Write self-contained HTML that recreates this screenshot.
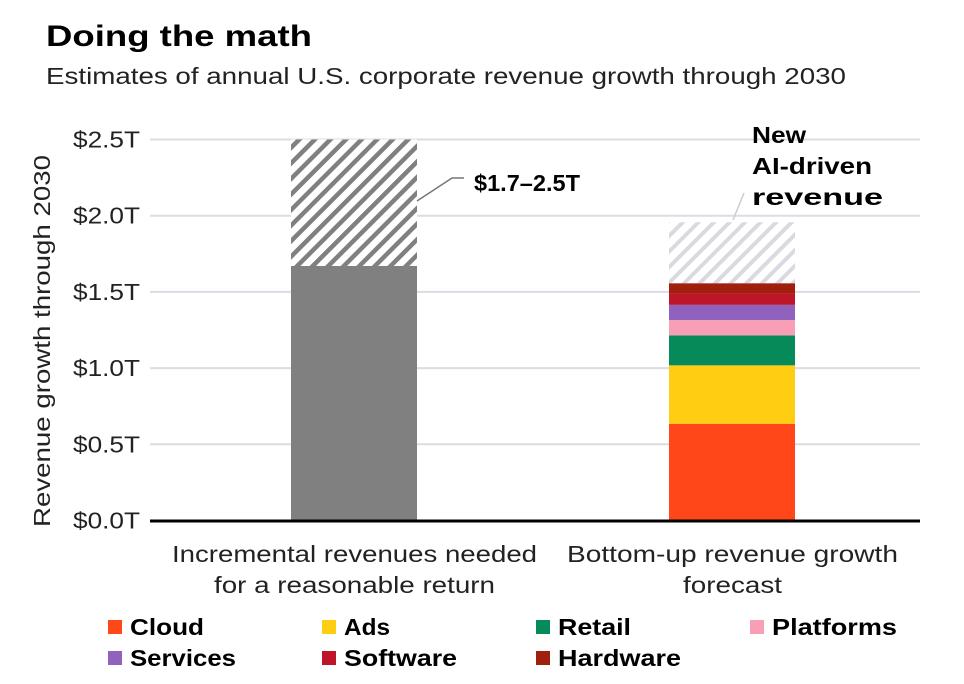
<!DOCTYPE html>
<html><head><meta charset="utf-8"><style>
body{margin:0;background:#fff;font-family:"Liberation Sans",sans-serif}
svg text{font-family:"Liberation Sans",sans-serif}
</style></head><body>
<svg id="c" width="964" height="679" xmlns="http://www.w3.org/2000/svg">
<defs>
<pattern id="h1" patternUnits="userSpaceOnUse" width="11" height="11" patternTransform="rotate(45)"><rect width="11" height="11" fill="#fff"/><rect width="4.5" height="11" fill="#808080"/></pattern>
<pattern id="h2" patternUnits="userSpaceOnUse" width="11" height="11" patternTransform="rotate(45)"><rect width="11" height="11" fill="#fff"/><rect width="4" height="11" fill="#d9d9e2"/></pattern>
</defs>
<text x="46" y="46" font-size="30" font-weight="bold" fill="#000" textLength="266" lengthAdjust="spacingAndGlyphs">Doing the math</text>
<text x="46" y="84" font-size="23" fill="#222" textLength="800" lengthAdjust="spacingAndGlyphs">Estimates of annual U.S. corporate revenue growth through 2030</text>
<text transform="translate(50,341) rotate(-90)" text-anchor="middle" font-size="23" fill="#222" textLength="372" lengthAdjust="spacingAndGlyphs">Revenue growth through 2030</text>
<g id="grid"></g><g id="bars"></g>
<line x1="150" y1="521" x2="920" y2="521" stroke="#000" stroke-width="3"/>
<polyline points="417,201 452,178 464,178" fill="none" stroke="#777" stroke-width="1.5"/>
<text x="474" y="191" font-size="23" font-weight="bold" textLength="106" lengthAdjust="spacingAndGlyphs">$1.7–2.5T</text>
<line x1="733" y1="220" x2="744" y2="193" stroke="#ccc" stroke-width="1.5"/>
<g font-size="23" font-weight="bold">
<text x="752" y="143" textLength="54" lengthAdjust="spacingAndGlyphs">New</text><text x="752" y="174" textLength="120" lengthAdjust="spacingAndGlyphs">AI-driven</text><text x="752" y="205" textLength="131" lengthAdjust="spacingAndGlyphs">revenue</text></g>
<g font-size="23" fill="#222">
<text x="172" y="562" textLength="365" lengthAdjust="spacingAndGlyphs">Incremental revenues needed</text><text x="214" y="593" textLength="281" lengthAdjust="spacingAndGlyphs">for a reasonable return</text>
<text x="567" y="562" textLength="331" lengthAdjust="spacingAndGlyphs">Bottom-up revenue growth</text><text x="683" y="593" textLength="99" lengthAdjust="spacingAndGlyphs">forecast</text></g>
<g id="legend" font-size="23" font-weight="bold"></g>
</svg>
<script>
const yTicks=[0,0.5,1.0,1.5,2.0,2.5];
const segNames=["Cloud","Ads","Retail","Platforms","Services","Software","Hardware"];
const segColors=["#ff4719","#ffce12","#078a5a","#f89fb6","#9062be","#be1528","#a0200e"];
const segValues=[0.635,0.383,0.197,0.10,0.10,0.075,0.067];
const aiValue=0.40;
const neededLow=1.67, neededHigh=2.5;
const legendLens=[74,46,73,125,106,113,123];
const NS="http://www.w3.org/2000/svg";
const y=v=>520.5-v*152.4;
function mk(t,a,p){const e=document.createElementNS(NS,t);for(const k in a)e.setAttribute(k,a[k]);p.appendChild(e);return e;}
const grid=document.getElementById('grid');
yTicks.forEach(v=>{
 const l=mk('line',{x1:150,x2:920,y1:y(v),y2:y(v),stroke:'#dcdce4','stroke-width':2},grid);
 
 
 const t=mk('text',{x:73,y:y(v)+8,'font-size':23,fill:'#222',textLength:67,lengthAdjust:'spacingAndGlyphs'},grid);
 t.textContent='$'+v.toFixed(1)+'T';
 
 
});
const bars=document.getElementById('bars');
let r=mk('rect',{x:291,width:126,y:y(neededLow),height:y(0)-y(neededLow),fill:'#808080'},bars);


r=mk('rect',{x:291,width:126,y:y(neededHigh),height:y(neededLow)-y(neededHigh),fill:'url(#h1)'},bars);


let cum=0;
segValues.forEach((v,i)=>{
 const s=mk('rect',{x:669,width:126,y:y(cum+v),height:y(cum)-y(cum+v),fill:segColors[i]},bars);
 
 
 cum+=v;
});
r=mk('rect',{x:669,width:126,y:y(cum+aiValue),height:y(cum)-y(cum+aiValue),fill:'url(#h2)'},bars);


const lg=document.getElementById('legend');
const lx=[108,322,536,750];
segNames.forEach((n,i)=>{
 const x=lx[i%4],yy=i<4?627:658;
 const g=mk('g',{},lg);
 
 
 mk('rect',{x:x,y:yy-7,width:14,height:14,fill:segColors[i]},g);
 const t=mk('text',{x:x+22,y:yy+8,textLength:legendLens[i],lengthAdjust:'spacingAndGlyphs'},g);t.textContent=n;
});
</script>
</body></html>
